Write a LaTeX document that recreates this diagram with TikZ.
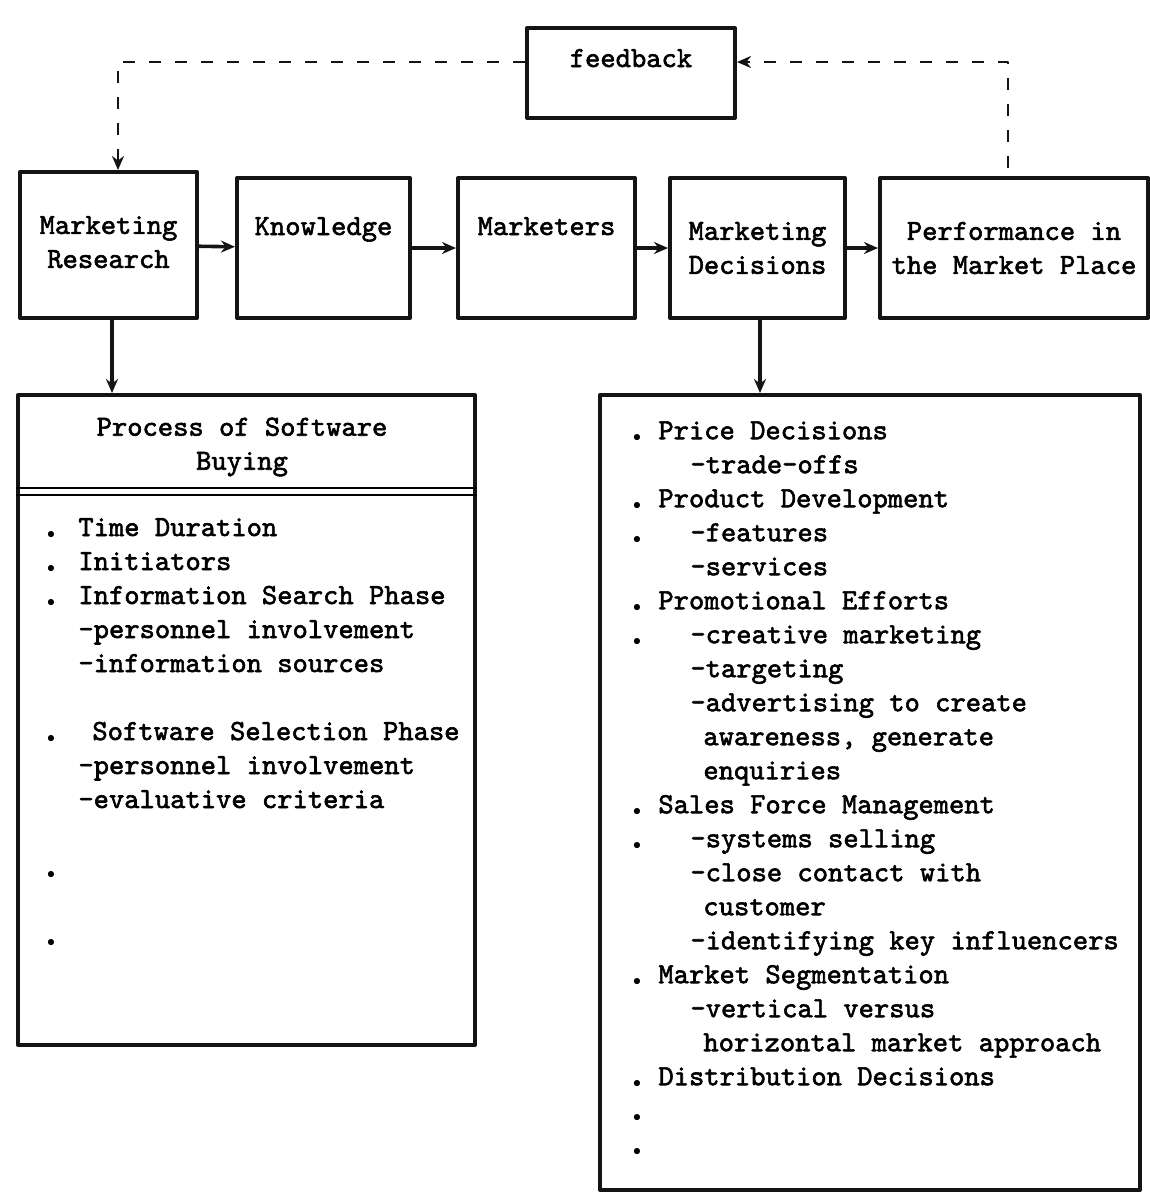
\documentclass[tikz,border=0pt]{standalone}
\usepackage{fontspec}
\usepackage{tikz}
\usetikzlibrary{arrows.meta}
\newfontfamily\typew{lmmono10-regular}[Extension=.otf, FakeBold=2]
\definecolor{mkink}{RGB}{20,20,20}
\newcommand{\itdot}[1]{\makebox[#1][l]{\hspace{2.2pt}\raisebox{-1.3pt}{\scalebox{0.55}{$\bullet$}}}}
\tikzset{
  mkbox/.style={
    draw=mkink, line width=2pt, align=center, inner sep=0pt
  },
  lst/.style={align=left, anchor=north west, inner sep=0pt,
    execute at begin node={\strut}},
  arr/.style={-{Stealth[length=7pt,width=6pt]}, draw=mkink, line width=1.8pt},
  darr/.style={arr, dash pattern=on 6pt off 7pt, line width=1.4pt},
  every picture/.append style={font=\typew\fontsize{14.57}{17}\selectfont, line join=round}
}
\begin{document}
\begin{tikzpicture}[x=1pt, y=-1pt]
  \useasboundingbox (0,0) rectangle (575,598);
  \node[mkbox, minimum width=104pt, minimum height=45pt, text height=9pt, text depth=15pt] (fb) at (315.5,36.5) {feedback};
  \node[mkbox, minimum width=88.5pt, minimum height=73pt, text depth=3pt] (mr) at (54.25,122.5) {Marketing\\Research};
  \node[mkbox, minimum width=86.5pt, minimum height=70pt, text height=9pt, text depth=22pt] (kn) at (161.75,124) {Knowledge};
  \node[mkbox, minimum width=88.5pt, minimum height=70pt, text height=9pt, text depth=22pt] (mk) at (273.25,124) {Marketers};
  \node[mkbox, minimum width=87.5pt, minimum height=70pt] (md) at (378.75,124) {Marketing\\Decisions};
  \node[mkbox, minimum width=134pt, minimum height=70pt] (pm) at (507,124) {Performance in\\the Market Place};
  % lower panels
  \node[mkbox, minimum width=228.5pt, minimum height=325pt] (buy) at (123.25,360) {};
  \node[align=center] (buyhd) at (121,223.5) {Process of Software\\Buying};
  \draw[line width=1.3pt] (buy.west |- 0,244) -- (buy.east |- 0,244);
  \draw[line width=1.3pt] (buy.west |- 0,247.5) -- (buy.east |- 0,247.5);
  \node[mkbox, minimum width=270pt, minimum height=397.5pt] (dec) at (435,396.25) {};
  \node[lst] (buyl) at (21.2,258.9) {%
    \itdot{17.8pt}Time Duration\\
    \itdot{17.8pt}Initiators\\
    \itdot{17.8pt}Information Search Phase\\
    \hspace*{17.8pt}-personnel involvement\\
    \hspace*{17.8pt}-information sources\\[17pt]
    \itdot{24.8pt}Software Selection Phase\\
    \hspace*{17.8pt}-personnel involvement\\
    \hspace*{17.8pt}-evaluative criteria\\[17pt]
    \itdot{1pt}\\[17pt]
    \itdot{1pt}};
  \node[lst] (decl) at (314.2,210.5) {%
    \itdot{14.8pt}Price Decisions\\
    \hspace*{30.8pt}-trade-offs\\
    \itdot{14.8pt}Product Development\\
    \itdot{30.8pt}-features\\
    \hspace*{30.8pt}-services\\
    \itdot{14.8pt}Promotional Efforts\\
    \itdot{30.8pt}-creative marketing\\
    \hspace*{30.8pt}-targeting\\
    \hspace*{30.8pt}-advertising to create\\
    \hspace*{37.3pt}awareness, generate\\
    \hspace*{37.3pt}enquiries\\
    \itdot{14.8pt}Sales Force Management\\
    \itdot{30.8pt}-systems selling\\
    \hspace*{30.8pt}-close contact with\\
    \hspace*{37.3pt}customer\\
    \hspace*{30.8pt}-identifying key influencers\\
    \itdot{14.8pt}Market Segmentation\\
    \hspace*{30.8pt}-vertical versus\\
    \hspace*{37.3pt}horizontal market approach\\
    \itdot{14.8pt}Distribution Decisions\\
    \itdot{1pt}\\
    \itdot{1pt}};
  \draw[arr] (mr) -- (kn);
  \draw[arr] (kn) -- (mk);
  \draw[arr] (mk) -- (md);
  \draw[arr] (md) -- (pm);
  \draw[arr] ([xshift=1.75pt]mr.south) -- ([xshift=1.75pt]mr.south |- buy.north);
  \draw[arr] ([xshift=1.25pt]md.south) -- ([xshift=1.25pt]md.south |- dec.north);
  % feedback loop
  \draw[darr] ([yshift=5.5pt]fb.west) -| ([xshift=4.75pt]mr.north);
  \draw[darr] ([xshift=-3pt,yshift=4pt]pm.north) |- ([yshift=5.5pt]fb.east);
\end{tikzpicture}
\end{document}
